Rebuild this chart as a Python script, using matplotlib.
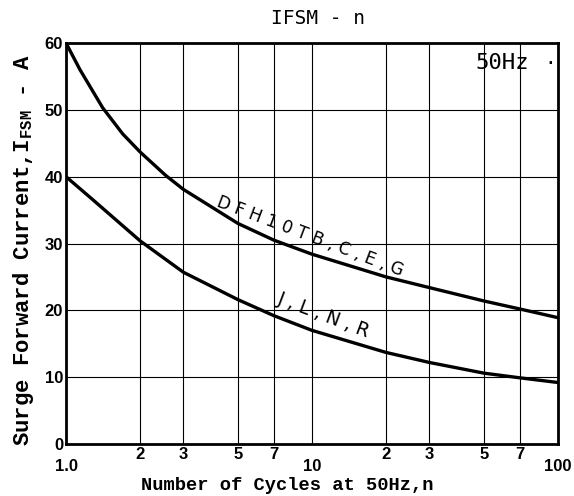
import matplotlib
matplotlib.use("Agg")
import matplotlib.pyplot as plt

# Data
upper_n = [1, 1.14, 1.41, 1.7, 2, 2.54, 3, 5, 7, 10, 20, 30, 50, 70, 100]
upper_i = [60, 56.0, 50.3, 46.4, 43.7, 40.2, 38.1, 33.0, 30.5, 28.4, 25.0, 23.4, 21.4, 20.2, 18.9]
lower_n = [1, 1.29, 2, 3, 5, 7, 10, 20, 30, 50, 70, 100]
lower_i = [40, 36.5, 30.4, 25.7, 21.6, 19.2, 17.0, 13.7, 12.2, 10.6, 9.9, 9.2]

major_x = [1, 10, 100]
major_x_labels = ["1.0", "10", "100"]
minor_x = [2, 3, 5, 7, 20, 30, 50, 70]
minor_x_labels = ["2", "3", "5", "7", "2", "3", "5", "7"]
y_ticks = [0, 10, 20, 30, 40, 50, 60]

upper_label = "D F H 1 0 T B , C , E , G"
lower_label = "J , L , N , R"

plt.rcParams['mathtext.fontset'] = 'custom'
plt.rcParams['mathtext.rm'] = 'Liberation Mono:bold'

W, H = 574, 496
fig = plt.figure(figsize=(W/100, H/100), dpi=100)
L, R, T, B = 66, 558, 43, 444
ax = fig.add_axes([L/W, 1-B/H, (R-L)/W, (B-T)/H])

ax.plot(upper_n, upper_i, color='black', lw=2.4, solid_joinstyle='round')
ax.plot(lower_n, lower_i, color='black', lw=2.4, solid_joinstyle='round')

ax.set_xscale('log')
ax.set_xlim(1, 100)
ax.set_ylim(0, 60)

tick_font = dict(family='Liberation Sans', weight='bold')
ax.set_xticks(major_x)
ax.set_xticklabels(major_x_labels, fontsize=12, **tick_font)
ax.set_xticks(minor_x, minor=True)
ax.set_xticklabels(minor_x_labels, minor=True, fontsize=12, **tick_font)
ax.tick_params(axis='x', which='major', length=0, pad=11)
ax.tick_params(axis='x', which='minor', length=0, pad=2)
ax.set_yticks(y_ticks)
ax.set_yticklabels([str(v) for v in y_ticks], fontsize=12, **tick_font)
ax.tick_params(axis='y', length=0, pad=2)

ax.grid(True, which='both', axis='x', color='black', lw=0.8)
ax.grid(True, which='major', axis='y', color='black', lw=0.8)
for s in ax.spines.values():
    s.set_linewidth(2)

label_font = dict(family='Liberation Mono', weight='bold')
fig.text(287/W, 1-485/H, "Number of Cycles at 50Hz,n", ha='center', va='center',
         fontsize=13.5, **label_font)
fig.text(24/W, 1-250/H, "Surge Forward Current,I$_{\\rm FSM}$ - A", ha='center',
         va='center', rotation=90, fontsize=16, **label_font)

fig.text(318/W, 1-18/H, "IFSM - n", ha='center', va='center',
         fontsize=14, family='DejaVu Sans Mono')
fig.text(475/W, 1-63/H, "50Hz", ha='left', va='center',
         fontsize=16, family='DejaVu Sans Mono')
fig.text(550/W, 1-63/H, "·", ha='center', va='center',
         fontsize=14, family='DejaVu Sans Mono')

ax.text(4.0, 35.1, upper_label, rotation=-20.7, ha='left', va='bottom',
        fontsize=12.3, family='DejaVu Sans', rotation_mode='anchor')
ax.text(7.05, 20.5, lower_label, rotation=-20.6, ha='left', va='bottom',
        fontsize=13.5, family='DejaVu Sans', rotation_mode='anchor')

fig.savefig("out.png", dpi=100)
